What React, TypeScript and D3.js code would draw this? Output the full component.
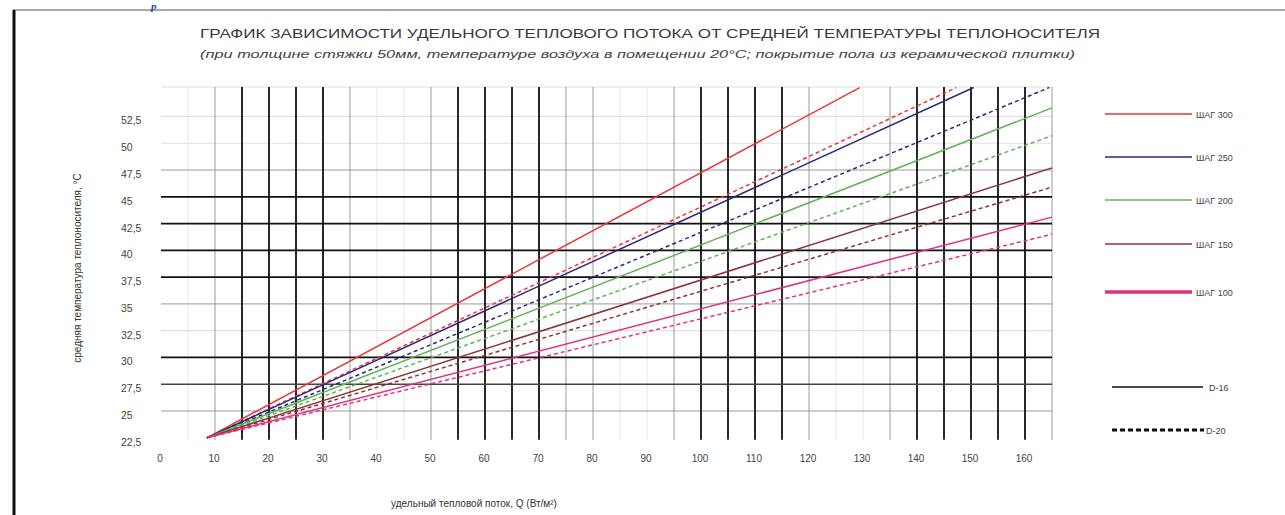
import React from "react";
import * as d3 from "d3";

// ---- data ----
const steps = ["ШАГ 300", "ШАГ 250", "ШАГ 200", "ШАГ 150", "ШАГ 100"];
const stepColors = ["#e8363c", "#2c2a78", "#5fb455", "#8c3535", "#e2307e"];
const startQ = 8.5;
const startT = 22.5;
// D-16 (solid) end points
const endQ16 = [129.4, 150.5, 165, 165, 165];
const endT16 = [55.2, 55.2, 53.3, 47.7, 43.1];
// D-20 (dashed) end points
const endQ20 = [147.3, 164.5, 165, 165, 165];
const endT20 = [55.2, 55.2, 50.7, 45.9, 41.5];

const xTicks = [0, 10, 20, 30, 40, 50, 60, 70, 80, 90, 100, 110, 120, 130, 140, 150, 160];
const yTicks = [22.5, 25, 27.5, 30, 32.5, 35, 37.5, 40, 42.5, 45, 47.5, 50, 52.5];
const yTickLabels = ["22,5", "25", "27,5", "30", "32,5", "35", "37,5", "40", "42,5", "45", "47,5", "50", "52,5"];

const xGridBlack = [15, 20, 25, 30, 55, 60, 65, 70, 100, 105, 110, 115, 140, 145, 150, 155, 160];
const xGridGray = [10, 35, 50, 75, 80, 95, 120, 135, 165];
const xGridFaint = [5, 40, 45, 85, 90, 125, 130];
const yGridBlack = [30, 37.5, 40, 42.5, 45];
const yGridDark = [27.5];
const yGridGray = [25, 35, 47.5];
const yGridFaint = [32.5, 50, 52.5, 55.25];

const title1 = "ГРАФИК ЗАВИСИМОСТИ УДЕЛЬНОГО ТЕПЛОВОГО ПОТОКА ОТ СРЕДНЕЙ ТЕМПЕРАТУРЫ ТЕПЛОНОСИТЕЛЯ";
const title2 = "(при толщине стяжки 50мм, температуре воздуха в помещении 20°С; покрытие пола из керамической плитки)";
const xTitle = "удельный тепловой поток, Q (Вт/м²)";
const yTitle = "средняя температура теплоносителя, °С";

export default function App() {
  if (typeof document !== "undefined") document.body.style.margin = "0";
  const W = 1285, H = 515;
  const x = d3.scaleLinear().domain([0, 165]).range([161, 1052]);
  const y = d3.scaleLinear().domain([22.5, 55.25]).range([437.8, 87]);
  const line = d3.line<[number, number]>().x(d => x(d[0])).y(d => y(d[1]));
  const font = "Liberation Sans, Arial, sans-serif";
  const yTop = y(55.25), yBot = y(22.5) + 2;
  const xL = x(0), xR = x(165);

  const legendY = [114, 157, 200, 244, 292];

  return (
    <svg width={W} height={H} style={{ display: "block", background: "#fff" }} fontFamily={font}>
      {/* page frame */}
      <line x1={13} y1={10} x2={W} y2={10} stroke="#aaa" strokeWidth={2} />
      <line x1={14} y1={10} x2={14} y2={H} stroke="#111" strokeWidth={3} />
      <text x={151} y={10} fontSize={11} fontStyle="italic" fontWeight="bold" fill="#1f4f91" fontFamily="Liberation Serif, serif">р</text>

      {/* titles */}
      <text x={200} y={38} fontSize={12} fill="#3a3a3a" textLength={900} lengthAdjust="spacingAndGlyphs">{title1}</text>
      <text x={200} y={58} fontSize={10.5} fontStyle="italic" fill="#444" textLength={875} lengthAdjust="spacingAndGlyphs">{title2}</text>

      {/* grid */}
      {xGridFaint.map(v => <line key={"xf" + v} x1={x(v)} x2={x(v)} y1={yTop} y2={yBot} stroke="#e6e6e6" strokeWidth={1} />)}
      {yGridFaint.map(v => <line key={"yf" + v} x1={xL} x2={xR} y1={y(v)} y2={y(v)} stroke="#e0e0e0" strokeWidth={1.2} />)}
      {xGridGray.map(v => <line key={"xg" + v} x1={x(v)} x2={x(v)} y1={yTop} y2={yBot} stroke="#9a9a9a" strokeWidth={1} />)}
      {yGridGray.map(v => <line key={"yg" + v} x1={xL} x2={xR} y1={y(v)} y2={y(v)} stroke="#9a9a9a" strokeWidth={1} />)}
      {xGridBlack.map(v => <line key={"xb" + v} x1={x(v)} x2={x(v)} y1={yTop} y2={yBot} stroke="#111" strokeWidth={1.8} />)}
      {yGridDark.map(v => <line key={"yd" + v} x1={xL} x2={xR} y1={y(v)} y2={y(v)} stroke="#444" strokeWidth={1.4} />)}
      {yGridBlack.map(v => <line key={"yb" + v} x1={xL} x2={xR} y1={y(v)} y2={y(v)} stroke="#111" strokeWidth={1.8} />)}

      {/* series */}
      {steps.map((s, i) => (
        <g key={s}>
          <path d={line([[startQ, startT], [endQ20[i], endT20[i]]]) || ""} fill="none" stroke={stepColors[i]} strokeWidth={1.5} strokeDasharray="4,3" />
          <path d={line([[startQ, startT], [endQ16[i], endT16[i]]]) || ""} fill="none" stroke={stepColors[i]} strokeWidth={1.5} />
        </g>
      ))}

      {/* x tick labels */}
      {xTicks.map(v => (
        <text key={"xt" + v} x={x(v) - 1} y={462} fontSize={10} fill="#444" textAnchor="middle">{v}</text>
      ))}
      {/* y tick labels */}
      {yTicks.map((v, i) => (
        <text key={"yt" + v} x={121} y={y(v) + 8} fontSize={10.5} fill="#444">{yTickLabels[i]}</text>
      ))}

      {/* axis titles */}
      <text x={474} y={507} fontSize={10} fill="#333" textAnchor="middle">{xTitle}</text>
      <text transform="translate(81,268) rotate(-90)" fontSize={10} fill="#333" textAnchor="middle">{yTitle}</text>

      {/* legend */}
      {steps.map((s, i) => (
        <g key={"lg" + s}>
          <line x1={1105} x2={1192} y1={legendY[i]} y2={legendY[i]} stroke={stepColors[i]} strokeWidth={i === 4 ? 3.5 : 1.5} />
          <text x={1196} y={legendY[i] + 3.5} fontSize={9} fill="#444">{s}</text>
        </g>
      ))}
      <line x1={1112} x2={1203} y1={387} y2={387} stroke="#111" strokeWidth={1.5} />
      <text x={1209} y={390.5} fontSize={9} fill="#444">D-16</text>
      <line x1={1112} x2={1204} y1={430} y2={430} stroke="#111" strokeWidth={3} strokeDasharray="5,3" />
      <text x={1206} y={433.5} fontSize={9} fill="#444">D-20</text>
    </svg>
  );
}
